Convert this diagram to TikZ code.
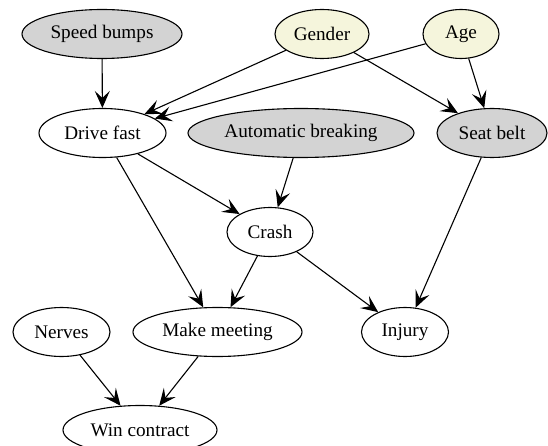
\documentclass[tikz,border=0pt]{standalone}
\usepackage{fontspec}
\setmainfont{Liberation Serif}
\newfontfamily\labelfont{Liberation Serif}
\usetikzlibrary{shapes.geometric,arrows.meta}
\definecolor{greyfill}{HTML}{D3D3D3}
\definecolor{beigefill}{HTML}{F5F5DC}
\begin{document}
\begin{tikzpicture}[x=1pt,y=-1pt,
  var/.style={ellipse,draw=black,line width=1.1pt,inner sep=0pt,
    font=\labelfont\fontsize{19.2}{22}\selectfont,minimum height=49pt},
  observed/.style={var,fill=greyfill},
  background/.style={var,fill=beigefill},
  latent/.style={var,fill=white},
  edge/.style={line width=1.1pt,-{Stealth[length=17pt,width=15pt,inset=7pt]}}]
\useasboundingbox (0,0) rectangle (548,446);
\begin{scope}
\clip (0,0) rectangle (548,446);
\node[observed,minimum width=160pt] (bumps) at (102,34) {Speed bumps};
\node[background,minimum width=94pt] (gender) at (322,34) {Gender};
\node[background,minimum width=76pt] (age) at (461,34) {Age};
\node[latent,minimum width=127pt] (drive) at (102.5,133) {Drive fast};
\node[observed,minimum width=226pt] (brake) at (301,133) {Automatic breaking};
\node[observed,minimum width=110pt] (belt) at (492,133) {Seat belt};
\node[latent,minimum width=86pt] (crash) at (270,232) {Crash};
\node[latent,minimum width=97pt] (nerves) at (61.5,332) {Nerves};
\node[latent,minimum width=169pt] (meeting) at (217.5,332) {Make meeting};
\node[latent,minimum width=87pt] (injury) at (405,332) {Injury};
\node[latent,minimum width=154pt] (win) at (140,430) {Win contract};

\draw[edge] (bumps) -- (drive);
\draw[edge] (gender) -- (drive);
\draw[edge] (age) -- (drive);
\draw[edge] (gender) -- (belt);
\draw[edge] (age) -- (belt);
\draw[edge] (drive) -- (crash);
\draw[edge] (brake) -- (crash);
\draw[edge] (drive) -- (meeting);
\draw[edge] (crash) -- (meeting);
\draw[edge] (crash) -- (injury);
\draw[edge] (belt) -- (injury);
\draw[edge] (nerves) -- (win);
\draw[edge] (meeting) -- (win);
\end{scope}
\end{tikzpicture}
\end{document}
